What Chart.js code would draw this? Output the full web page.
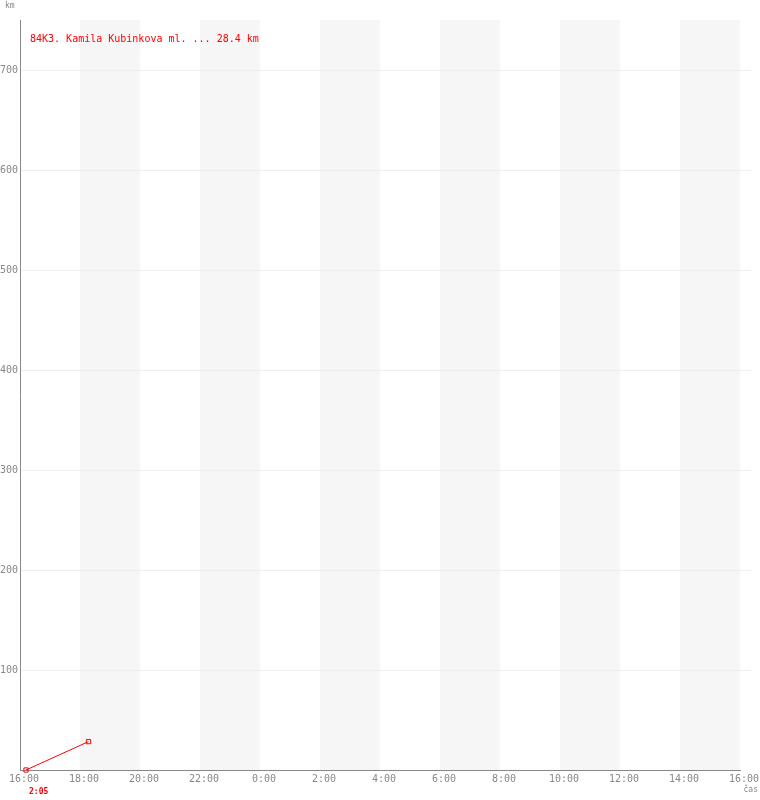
<!DOCTYPE html>
<html><head><meta charset="utf-8">
<script src="https://cdn.jsdelivr.net/npm/chart.js@4/dist/chart.umd.min.js"></script>
<style>html,body{margin:0;padding:0;background:#fff}canvas{display:block}</style>
</head><body>
<canvas id="c" width="760" height="800"></canvas>
<script>
// ---- data ----
const titleText = '84K3. Kamila Kubinkova ml. ... 28.4 km';
const yUnit = 'km';
const xUnit = 'čas';
const durationLabel = '2:05';
const tickLabels = ['16:00','18:00','20:00','22:00','0:00','2:00','4:00','6:00','8:00','10:00','12:00','14:00','16:00'];
const pointTimes = ['16:12','18:17'];
const pointKm = [0, 28.4];
const yTicks = [100,200,300,400,500,600,700];

const startHour = 16;
function toHours(t){const [h,m]=t.split(':').map(Number);let v=h+m/60-startHour;if(v<0)v+=24;return v;}
const points = pointTimes.map((t,i)=>({x:toHours(t), y:pointKm[i]}));

const MONO = '"DejaVu Sans Mono", "Liberation Mono", monospace';

const bandsPlugin = {
  id:'bands',
  beforeDraw(chart){
    const {ctx, chartArea:a, scales:{x,y}} = chart;
    ctx.save();
    ctx.fillStyle = '#f6f6f6';
    for (let i=1;i<tickLabels.length-1;i+=2){
      const x0 = x.getPixelForValue(i*2), x1 = x.getPixelForValue(i*2+2);
      ctx.fillRect(x0, a.top, x1-x0, a.bottom-a.top);
    }
    ctx.strokeStyle = '#eeeeee';
    ctx.lineWidth = 1;
    yTicks.forEach(v=>{
      const py = Math.round(y.getPixelForValue(v))+0.5;
      ctx.beginPath(); ctx.moveTo(a.left, py); ctx.lineTo(a.right+11, py); ctx.stroke();
    });
    ctx.restore();
  }
};
const textPlugin = {
  id:'texts',
  afterDraw(chart){
    const {ctx, chartArea:a, scales:{x,y}} = chart;
    ctx.save();
    ctx.textBaseline='middle';
    ctx.fillStyle='#ff0000';
    ctx.font = '10px '+MONO;
    ctx.textAlign='left';
    ctx.fillText(titleText, a.left+10, a.top+19);
    ctx.fillStyle='#888';
    ctx.font = '8px '+MONO;
    ctx.fillText(yUnit, 5, 6);
    ctx.textAlign='right';
    ctx.fillText(xUnit, 758, 790);
    ctx.fillStyle='#ff0000';
    ctx.font = 'bold 8px '+MONO;
    ctx.textAlign='left';
    ctx.fillText(durationLabel, x.getPixelForValue(points[0].x)+3, 792);
    ctx.restore();
  }
};

new Chart(document.getElementById('c'), {
  type:'line',
  data:{datasets:[{
    data:points,
    borderColor:'#ff0000',
    borderWidth:1,
    pointStyle:'rect',
    pointRadius:3,
    pointBorderWidth:1,
    pointBackgroundColor:'rgba(255,255,255,0)',
    pointBorderColor:'#ff0000',
    tension:0,
    clip:false
  }]},
  options:{
    responsive:false,
    animation:false,
    devicePixelRatio:1,
    layout:{padding:{top:20,right:20,left:0,bottom:0}},
    plugins:{legend:{display:false},tooltip:{enabled:false}},
    scales:{
      x:{
        type:'linear', min:0, max:24,
        afterBuildTicks(s){ s.ticks = tickLabels.map((l,i)=>({value:i*2})); },
        afterFit(s){ s.height = 30; },
        ticks:{
          callback:(v,i)=>tickLabels[i],
          autoSkip:false, maxRotation:0, minRotation:0,
          font:{family:MONO,size:10}, color:'#888',
          labelOffset:4, padding:3
        },
        grid:{display:true, drawOnChartArea:false, drawTicks:false},
        border:{display:true, color:'#888', width:1}
      },
      y:{
        min:0, max:750,
        afterBuildTicks(s){ s.ticks = yTicks.map(v=>({value:v})); },
        afterFit(s){ s.width = 20; },
        ticks:{
          font:{family:MONO,size:10}, color:'#888', padding:2
        },
        grid:{display:true, drawOnChartArea:false, drawTicks:false},
        border:{display:true, color:'#888', width:1}
      }
    }
  },
  plugins:[bandsPlugin, textPlugin]
});
</script>
</body></html>
